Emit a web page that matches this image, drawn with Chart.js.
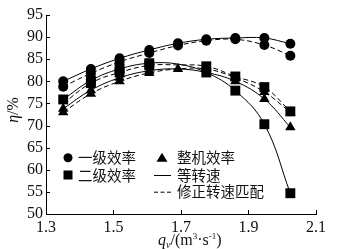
<!DOCTYPE html>
<html>
<head>
<meta charset="utf-8">
<script src="https://cdn.jsdelivr.net/npm/chart.js@4"></script>
<style>
  html, body { margin: 0; padding: 0; background: #fff; }
  #wrap { width: 363px; height: 249px; }
</style>
</head>
<body>
<div id="wrap"><canvas id="myChart" width="363" height="249"></canvas></div>
<script>
// flow rate q_v, m3/s
const flow = [1.351, 1.433, 1.518, 1.606, 1.691, 1.775, 1.861, 1.947, 2.024];

// efficiencies in %, solid = same speed, dashed = corrected speed matching
const stage1Same = [80.0, 82.8, 85.2, 87.1, 88.6, 89.5, 89.8, 89.8, 88.5];
const stage1Corr = [78.8, 81.8, 84.4, 86.4, 88.1, 89.2, 89.5, 88.2, 85.8];
const stage2Same = [75.9, 80.2, 82.8, 84.1, 83.9, 82.0, 77.9, 70.3, 54.7];
const stage2Corr = [75.0, 79.6, 82.0, 83.6, 83.7, 83.4, 81.1, 78.7, 73.2];
const wholeSame = [73.8, 78.0, 80.8, 82.4, 82.8, 82.0, 80.0, 76.0, 69.6];
const wholeCorr = [73.0, 77.2, 80.0, 81.9, 82.8, 82.8, 80.8, 77.6, 73.0];

const xTicks = [1.3, 1.5, 1.7, 1.9, 2.1];
const yTicks = [50, 55, 60, 65, 70, 75, 80, 85, 90, 95];

const legendLabels = ['一级效率', '二级效率', '整机效率', '等转速', '修正转速匹配'];

function pts(vals) {
  return vals.map((v, i) => ({ x: flow[i], y: v }));
}

function series(vals, shape, dashed, radius, hideAt) {
  return {
    data: pts(vals),
    borderColor: '#000',
    backgroundColor: '#000',
    borderWidth: 1,
    borderDash: dashed ? [5, 3] : [],
    tension: 0.4,
    pointStyle: shape,
    pointRadius: vals.map((v, i) => (hideAt.includes(i) ? 0 : radius)),
    pointBorderWidth: 0,
    pointBackgroundColor: '#000'
  };
}

const serif = 'Liberation Serif, Times New Roman, serif';
const cjk = 'Noto Sans CJK SC, sans-serif';

// inward tick marks, legend and axis titles
const extras = {
  id: 'extras',
  afterDraw(chart) {
    const ctx = chart.ctx;
    const xs = chart.scales.x, ys = chart.scales.y;
    const area = chart.chartArea;
    ctx.save();
    ctx.strokeStyle = '#000';
    ctx.lineWidth = 1;
    ctx.beginPath();
    yTicks.forEach(t => {
      const y = Math.round(ys.getPixelForValue(t)) + 0.5;
      ctx.moveTo(area.left, y);
      ctx.lineTo(area.left + 4, y);
    });
    xTicks.forEach(t => {
      const x = Math.round(xs.getPixelForValue(t)) + 0.5;
      ctx.moveTo(x, area.bottom);
      ctx.lineTo(x, area.bottom - 4);
    });
    ctx.stroke();

    // legend
    ctx.fillStyle = '#000';
    const r1 = 157.7, r2 = 175, r3 = 191.7;
    ctx.beginPath();
    ctx.arc(68, r1, 4.5, 0, Math.PI * 2);
    ctx.fill();
    ctx.fillRect(63.5, r2 - 4.5, 9, 9);
    ctx.beginPath();
    ctx.moveTo(162, r1 - 5);
    ctx.lineTo(167.5, r1 + 4);
    ctx.lineTo(156.5, r1 + 4);
    ctx.closePath();
    ctx.fill();
    ctx.beginPath();
    ctx.moveTo(154, r2 + 0.5);
    ctx.lineTo(171, r2 + 0.5);
    ctx.stroke();
    ctx.setLineDash([4, 2.5]);
    ctx.beginPath();
    ctx.moveTo(154, r3 + 0.5);
    ctx.lineTo(171, r3 + 0.5);
    ctx.stroke();
    ctx.setLineDash([]);

    ctx.font = '14.5px ' + cjk;
    ctx.textBaseline = 'middle';
    ctx.textAlign = 'left';
    ctx.fillStyle = '#111';
    ctx.fillText(legendLabels[0], 78, r1);
    ctx.fillText(legendLabels[1], 78, r2);
    ctx.fillText(legendLabels[2], 177, r1);
    ctx.fillText(legendLabels[3], 177, r2);
    ctx.fillText(legendLabels[4], 177, r3);

    // x title: q_v/(m3·s-1)
    ctx.textBaseline = 'alphabetic';
    let x = 158;
    const base = 245;
    ctx.font = 'italic 16px ' + serif;
    ctx.fillText('q', x, base);
    x += ctx.measureText('q').width;
    ctx.font = 'italic 10px ' + serif;
    ctx.fillText('v', x, base + 3);
    x += ctx.measureText('v').width;
    ctx.font = '16px ' + serif;
    ctx.fillText('/(m', x, base);
    x += ctx.measureText('/(m').width;
    ctx.font = '9px ' + serif;
    ctx.fillText('3', x, base - 6);
    x += ctx.measureText('3').width;
    ctx.font = '16px ' + serif;
    ctx.fillText('·s', x, base);
    x += ctx.measureText('·s').width;
    ctx.font = '9px ' + serif;
    ctx.fillText('-1', x, base - 6);
    x += ctx.measureText('-1').width;
    ctx.font = '16px ' + serif;
    ctx.fillText(')', x, base);

    // y title: η/%
    ctx.translate(18, 110);
    ctx.rotate(-Math.PI / 2);
    ctx.textAlign = 'left';
    ctx.font = 'italic 16px ' + serif;
    const w1 = ctx.measureText('η').width;
    ctx.font = '16px ' + serif;
    const w2 = ctx.measureText('/%').width;
    const sx = -(w1 + w2) / 2;
    ctx.font = 'italic 16px ' + serif;
    ctx.fillText('η', sx, 0);
    ctx.font = '16px ' + serif;
    ctx.fillText('/%', sx + w1, 0);
    ctx.restore();
  }
};

new Chart('myChart', {
  type: 'line',
  data: {
    datasets: [
      series(stage1Same, 'circle', false, 5, []),
      series(stage1Corr, 'circle', true, 5, []),
      series(stage2Same, 'rect', false, 7, [4]),
      series(stage2Corr, 'rect', true, 7, [0, 4]),
      series(wholeSame, 'triangle', false, 6, [5]),
      series(wholeCorr, 'triangle', true, 6, [4, 5])
    ]
  },
  options: {
    responsive: false,
    animation: false,
    layout: { padding: { top: 15, right: 47, left: 0, bottom: 0 } },
    plugins: { legend: { display: false }, tooltip: { enabled: false } },
    scales: {
      x: {
        type: 'linear',
        min: 1.3,
        max: 2.1,
        afterFit(s) { s.height = 35; },
        afterBuildTicks(s) { s.ticks = xTicks.map(v => ({ value: v })); },
        grid: { display: false, drawTicks: false },
        border: { display: true, color: '#000', width: 1 },
        ticks: {
          autoSkip: false,
          maxRotation: 0,
          padding: 4,
          color: '#111',
          font: { family: serif, size: 16 },
          callback: v => v.toFixed(1)
        }
      },
      y: {
        min: 50,
        max: 95,
        afterFit(s) { s.width = 46; },
        afterBuildTicks(s) { s.ticks = yTicks.map(v => ({ value: v })); },
        grid: { display: false, drawTicks: false },
        border: { display: true, color: '#000', width: 1 },
        ticks: {
          autoSkip: false,
          padding: 3,
          color: '#111',
          font: { family: serif, size: 16 }
        }
      }
    }
  },
  plugins: [extras]
});
</script>
</body>
</html>
